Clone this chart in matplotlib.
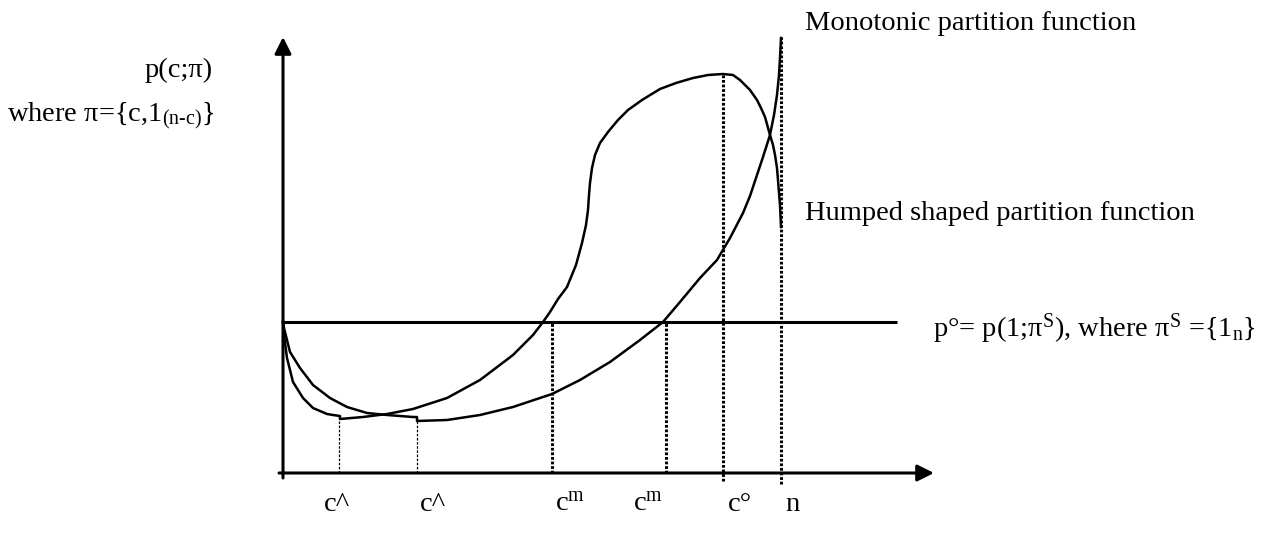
import matplotlib.pyplot as plt

plt.rcParams['font.family'] = ['Liberation Serif', 'DejaVu Serif']
plt.rcParams['mathtext.fontset'] = 'custom'
plt.rcParams['mathtext.rm'] = 'Liberation Serif'
plt.rcParams['mathtext.it'] = 'Liberation Serif:italic'

# Schematic data, origin at the corner of the axes
humped_x = [0, 1, 4, 10, 20, 30, 44, 50, 57, 57, 80, 104, 130, 164, 197, 230, 250, 260,
            267, 275, 284, 293, 299, 303, 305, 306, 307, 309, 312, 317, 325, 335, 345, 359,
            377, 393, 410, 425, 440, 450, 457, 462, 467, 474, 478, 482, 487, 490, 492, 494,
            495, 496, 497, 498]
humped_y = [151, 138, 115, 91, 75, 65, 59, 58, 57, 54, 56, 59, 64, 75, 93, 118, 138, 151,
            161, 174, 186, 208, 230, 248, 263, 278, 290, 305, 318, 330, 341, 353, 363, 373,
            384, 390, 395, 398, 399, 398, 393, 388, 383, 373, 365, 356, 338, 328, 318, 305,
            293, 280, 268, 246]

mono_x = [0, 1, 7, 17, 30, 47, 64, 84, 104, 130, 134, 134, 164, 197, 230, 269, 297, 327,
          357, 380, 397, 417, 434, 447, 460, 467, 474, 480, 487, 491, 494, 496, 497, 498]
mono_y = [151, 145, 121, 105, 88, 75, 66, 60, 58, 56, 56, 52, 53, 58, 66, 79, 93, 111,
          133, 151, 171, 195, 213, 235, 260, 277, 298, 316, 338, 358, 378, 398, 415, 435]

p_level = 151          # p° = p(1; pi^S)
x_axis_end = 651
y_axis_end = 436

# dotted guide lines: position, top, bottom
guide_x = [56, 134, 269, 383, 440, 498]
guide_top = [56, 56, 151, 151, 399, 436]
guide_bottom = [0, 0, 0, 0, -8, -11]
guide_thin = [True, True, False, False, False, False]

tick_labels = ['c^', 'c^', r'c$^{\mathrm{m}}$', r'c$^{\mathrm{m}}$', 'c°', 'n']

fig = plt.figure(figsize=(12.79, 5.33), dpi=100)
ax = fig.add_axes([0, 0, 1, 1])
ax.set_xlim(-283, 996)
ax.set_ylim(-60, 473)
ax.axis('off')

fs = 20.5

# axes with arrow heads
arrow = dict(arrowstyle='-|>,head_length=0.5,head_width=0.25', lw=2.2, color='black',
             shrinkA=0, shrinkB=0, mutation_scale=20)
ax.annotate('', xy=(0, y_axis_end), xytext=(0, -5), arrowprops=arrow)
ax.annotate('', xy=(x_axis_end, 0), xytext=(-4, 0), arrowprops=arrow)

# p° level
ax.plot([0, 614], [p_level, p_level], color='black', lw=2.2, solid_capstyle='butt')

# the two partition functions
ax.plot(humped_x, humped_y, color='black', lw=1.8, solid_joinstyle='round')
ax.plot(mono_x, mono_y, color='black', lw=1.8, solid_joinstyle='round')

# dotted guides
for gx, top, bot, thin in zip(guide_x, guide_top, guide_bottom, guide_thin):
    if thin:
        ax.plot([gx, gx], [bot, top], color='black', lw=0.9, linestyle=(0, (2, 1.3)))
    else:
        ax.plot([gx, gx], [bot, top], color='black', lw=2.2, linestyle=(0, (0.9, 0.6)))

# labels under the x axis
label_x = [54, 137, 272, 350, 445, 502]
label_ha = ['center', 'left', 'left', 'left', 'left', 'left']
for lab, lx, ha in zip(tick_labels, label_x, label_ha):
    ax.text(lx, -38, lab, fontsize=fs, ha=ha, va='baseline')

# annotations
ax.text(-70, 396, 'p(c;π)', fontsize=fs, ha='right', va='baseline')
ax.text(-276, 351, r'where π={c,1$_{\text{(n-c)}}$}', fontsize=fs, ha='left', va='baseline')
ax.text(522, 443, 'Monotonic partition function', fontsize=fs, ha='left', va='baseline')
ax.text(522, 253, 'Humped shaped partition function', fontsize=fs, ha='left', va='baseline')
ax.text(650, 136, r'p°= p(1;π$^{\mathrm{S}}$), where π$^{\mathrm{S}}$ ={1$_{\mathrm{n}}$}',
        fontsize=fs, ha='left', va='baseline')

plt.savefig('out.png', dpi=100)
